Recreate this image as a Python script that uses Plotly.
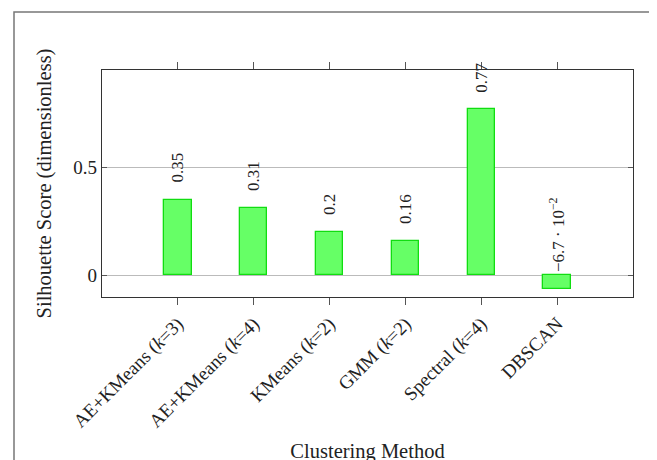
import plotly.graph_objects as go

methods = ["AE+KMeans (<i>k</i>=3)", "AE+KMeans (<i>k</i>=4)", "KMeans (<i>k</i>=2)",
           "GMM (<i>k</i>=2)", "Spectral (<i>k</i>=4)", "DBSCAN"]
scores = [0.35, 0.31, 0.20, 0.16, 0.77, -0.067]
score_labels = ["0.35", "0.31", "0.2", "0.16", "0.77", "−6.7 · 10<sup>−2</sup>"]
y_ticks = [0, 0.5]
y_tick_text = ["0", "0.5"]

FONT = "Liberation Serif"
W, H = 657, 460
OFF = 8  # page body margin in the browser
L, R, T, B = 102 - OFF, 24 + OFF, 70 - OFF, 163 + OFF
pw, ph = W - L - R, H - T - B

fig = go.Figure()
fig.add_trace(go.Bar(
    x=methods, y=scores, width=0.36,
    marker=dict(color="#66ff66", line=dict(color="#11dd11", width=1.3)),
    showlegend=False, hoverinfo="x+y",
))

for m, v, t in zip(methods, scores, score_labels):
    fig.add_annotation(x=m, y=v, xref="x", yref="y", text=t, showarrow=False,
                       textangle=-90, xanchor="center", yanchor="bottom", yshift=15,
                       font=dict(family=FONT, size=17, color="#222"))

# outer frame (page coordinates converted to paper fractions)
fx0, fx1, fy0, fy1 = 14 - OFF, 652, 12 - OFF, 490
fig.add_shape(type="rect", xref="paper", yref="paper",
              x0=(fx0 - L) / pw, x1=(fx1 - L) / pw,
              y0=(T + ph - fy1) / ph, y1=(T + ph - fy0) / ph,
              line=dict(color="#777", width=1.5), layer="below")

fig.update_layout(
    width=W, height=H,
    margin=dict(l=L, r=R, t=T, b=B, autoexpand=False),
    plot_bgcolor="white", paper_bgcolor="white",
    font=dict(family=FONT, size=19, color="#222"),
    xaxis=dict(
        type="category", range=[-1, 6],
        showline=True, linecolor="#333", linewidth=1.3, mirror="allticks",
        ticks="outside", ticklen=7, tickcolor="#555", tickwidth=1,
        tickangle=-45, tickfont=dict(family=FONT, size=19),
        showgrid=False,
        title=dict(text="Clustering Method", font=dict(family=FONT, size=20.5), standoff=12),
    ),
    yaxis=dict(
        range=[-0.102, 0.953],
        tickvals=y_ticks, ticktext=y_tick_text,
        showline=True, linecolor="#333", linewidth=1.3, mirror="allticks",
        ticks="inside", ticklen=5, tickcolor="#555",
        showgrid=True, gridcolor="#bbbbbb", gridwidth=1, zeroline=False,
        tickfont=dict(family=FONT, size=19),
        title=dict(text="Silhouette Score (dimensionless)", font=dict(family=FONT, size=20.5), standoff=16),
    ),
    bargap=0,
)

fig.write_html("out.html")
